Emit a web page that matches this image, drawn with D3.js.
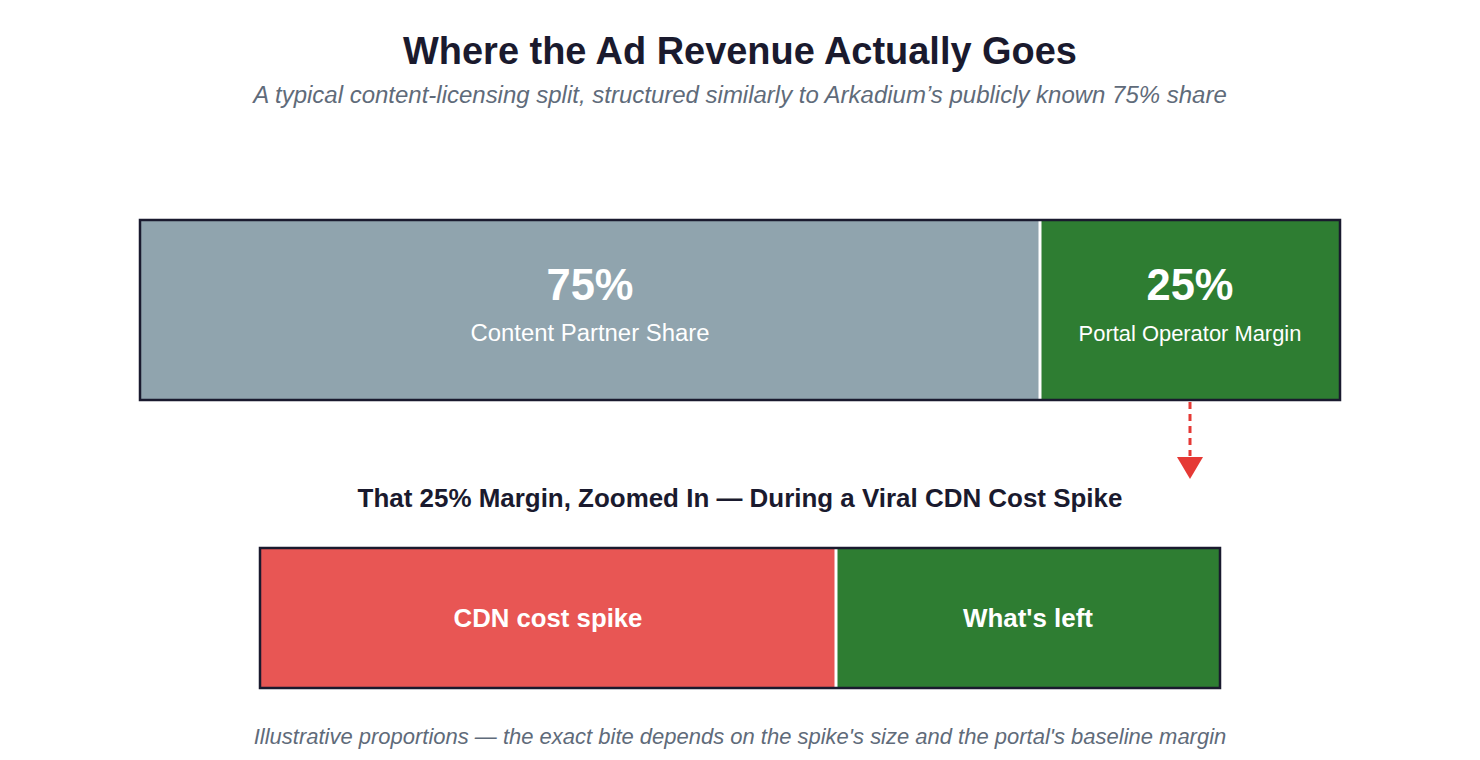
<!DOCTYPE html>
<html><head><meta charset="utf-8">
<script src="https://cdn.jsdelivr.net/npm/d3@7"></script>
<style>
html,body{margin:0;padding:0;background:#fff;}
</style></head>
<body>
<svg id="chart" width="1480" height="760" font-family="'Liberation Sans', Arial, Helvetica, sans-serif"></svg>
<script>
const topCategories = ["Content Partner Share", "Portal Operator Margin"];
const topValues = [75, 25];
const topLabels = ["75%", "25%"];
const topColors = ["#90a4ae", "#2e7d32"];

const zoomCategories = ["CDN cost spike", "What's left"];
const zoomValues = [60, 40];
const zoomColors = ["#e85654", "#2e7d32"];

const titleText = "Where the Ad Revenue Actually Goes";
const subtitleText = "A typical content-licensing split, structured similarly to Arkadium\u2019s publicly known 75% share";
const zoomTitleText = "That 25% Margin, Zoomed In \u2014 During a Viral CDN Cost Spike";
const footerText = "Illustrative proportions \u2014 the exact bite depends on the spike's size and the portal's baseline margin";

const svg = d3.select("#chart");
const W = 1480;
const dark = "#1a1a2e";
const FF = "'Liberation Sans', Arial, Helvetica, sans-serif";

function fitText(sel, target){
  sel.each(function(d,i){
    const t = Array.isArray(target) ? target[i] : target;
    const el = d3.select(this);
    const w = this.getComputedTextLength();
    const fs = parseFloat(el.attr("font-size"));
    el.attr("font-size", fs * t / w);
  });
}

const t1 = svg.append("text").attr("x", W/2).attr("y", 64).attr("text-anchor","middle").attr("font-family", FF)
  .attr("font-size", 35).attr("font-weight","bold").attr("fill", dark).text(titleText);
fitText(t1, 674);
const t2 = svg.append("text").attr("x", W/2).attr("y", 103).attr("text-anchor","middle").attr("font-family", FF)
  .attr("font-size", 21).attr("font-style","italic").attr("fill", "#5f6b7a").text(subtitleText);
fitText(t2, 974);

function stack(vals){ let s=0; return vals.map(v=>{const r=[s,s+v]; s+=v; return r;}); }

// top bar
const xTop = d3.scaleLinear().domain([0, d3.sum(topValues)]).range([140, 1340]);
const topY = 220, topH = 180;
const tStack = stack(topValues);
const gTop = svg.append("g");
gTop.selectAll("rect.seg").data(tStack).join("rect").attr("class","seg")
  .attr("x", d=>xTop(d[0])).attr("y", topY)
  .attr("width", d=>xTop(d[1])-xTop(d[0])).attr("height", topH)
  .attr("fill", (d,i)=>topColors[i]);
gTop.selectAll("line.div").data(tStack.slice(1)).join("line").attr("class","div")
  .attr("x1", d=>xTop(d[0])).attr("x2", d=>xTop(d[0]))
  .attr("y1", topY).attr("y2", topY+topH).attr("stroke","#fff").attr("stroke-width",3);
gTop.append("rect").attr("x", xTop(0)).attr("y", topY).attr("width", xTop(100)-xTop(0)).attr("height", topH)
  .attr("fill","none").attr("stroke", dark).attr("stroke-width", 2.5);
const pct = gTop.selectAll("text.pct").data(tStack).join("text").attr("class","pct").attr("font-family", FF)
  .attr("x", d=>(xTop(d[0])+xTop(d[1]))/2).attr("y", topY+80).attr("text-anchor","middle")
  .attr("font-size", 40).attr("font-weight","bold").attr("fill","#fff").text((d,i)=>topLabels[i]);
fitText(pct, [87, 87]);
const cat = gTop.selectAll("text.cat").data(tStack).join("text").attr("class","cat").attr("font-family", FF)
  .attr("x", d=>(xTop(d[0])+xTop(d[1]))/2).attr("y", topY+121).attr("text-anchor","middle")
  .attr("font-size", 22).attr("fill","#fff").text((d,i)=>topCategories[i]);
fitText(cat, [239, 223]);

// arrow
const ax = (xTop(tStack[1][0])+xTop(tStack[1][1]))/2;
svg.append("line").attr("x1", ax).attr("x2", ax).attr("y1", topY+topH+2).attr("y2", 456)
  .attr("stroke","#e53935").attr("stroke-width",3).attr("stroke-dasharray","7,5");
svg.append("path").attr("d", `M${ax-13},457 L${ax+13},457 L${ax},479 Z`).attr("fill","#e53935");

// zoom title
const t3 = svg.append("text").attr("x", 740).attr("y", 507).attr("text-anchor","middle").attr("font-family", FF)
  .attr("font-size", 23).attr("font-weight","bold").attr("fill", dark).text(zoomTitleText);
fitText(t3, 765);

// zoom bar
const xZ = d3.scaleLinear().domain([0, d3.sum(zoomValues)]).range([260, 1220]);
const zY = 548, zH = 140;
const zStack = stack(zoomValues);
const gZ = svg.append("g");
gZ.selectAll("rect.seg").data(zStack).join("rect").attr("class","seg")
  .attr("x", d=>xZ(d[0])).attr("y", zY)
  .attr("width", d=>xZ(d[1])-xZ(d[0])).attr("height", zH)
  .attr("fill", (d,i)=>zoomColors[i]);
gZ.selectAll("line.div").data(zStack.slice(1)).join("line").attr("class","div")
  .attr("x1", d=>xZ(d[0])).attr("x2", d=>xZ(d[0]))
  .attr("y1", zY).attr("y2", zY+zH).attr("stroke","#fff").attr("stroke-width",3);
gZ.append("rect").attr("x", xZ(0)).attr("y", zY).attr("width", xZ(100)-xZ(0)).attr("height", zH)
  .attr("fill","none").attr("stroke", dark).attr("stroke-width", 2.5);
const zc = gZ.selectAll("text.cat").data(zStack).join("text").attr("class","cat").attr("font-family", FF)
  .attr("x", d=>(xZ(d[0])+xZ(d[1]))/2).attr("y", zY+zH/2+9).attr("text-anchor","middle")
  .attr("font-size", 24).attr("font-weight","bold").attr("fill","#fff").text((d,i)=>zoomCategories[i]);
fitText(zc, [189, 130]);

const t4 = svg.append("text").attr("x", 740).attr("y", 744).attr("text-anchor","middle").attr("font-family", FF)
  .attr("font-size", 20).attr("font-style","italic").attr("fill", "#5f6b7a").text(footerText);
fitText(t4, 973);
</script>
</body></html>
